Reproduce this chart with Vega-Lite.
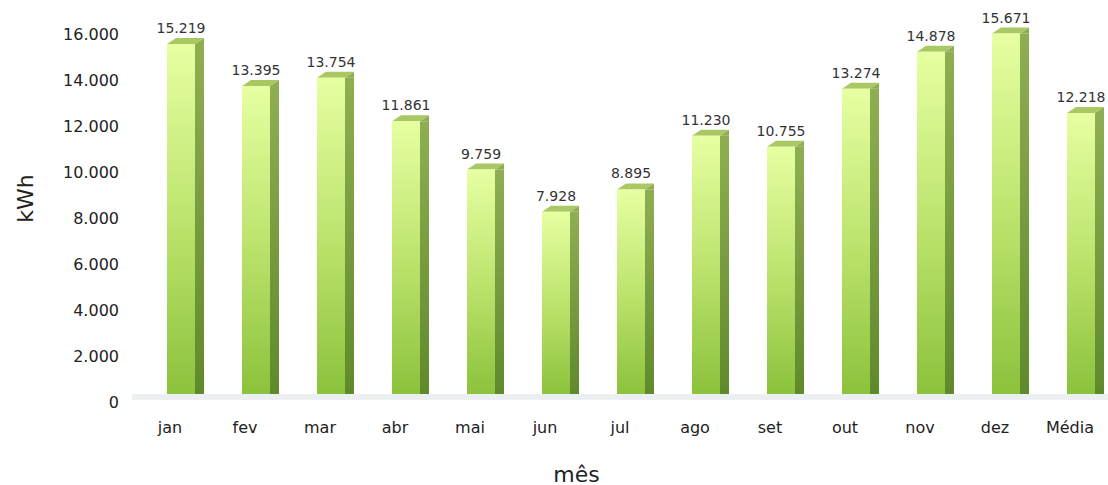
{
  "$schema": "https://vega.github.io/schema/vega-lite/v6.json",
  "width": 975,
  "height": 368,
  "autosize": {"type": "none"},
  "padding": {"left": 132.5, "top": 34, "right": 0.5, "bottom": 83},
  "background": "white",
  "config": {
    "view": {"stroke": null},
    "font": "DejaVu Sans",
    "locale": {"number": {"decimal": ",", "thousands": ".", "grouping": [3], "currency": ["R$", ""]}}
  },
  "data": {"values": [
    {"mes": "jan", "kwh": 15219},
    {"mes": "fev", "kwh": 13395},
    {"mes": "mar", "kwh": 13754},
    {"mes": "abr", "kwh": 11861},
    {"mes": "mai", "kwh": 9759},
    {"mes": "jun", "kwh": 7928},
    {"mes": "jul", "kwh": 8895},
    {"mes": "ago", "kwh": 11230},
    {"mes": "set", "kwh": 10755},
    {"mes": "out", "kwh": 13274},
    {"mes": "nov", "kwh": 14878},
    {"mes": "dez", "kwh": 15671},
    {"mes": "Média", "kwh": 12218}
  ]},
  "layer": [
    {
      "mark": {"type": "rule", "color": "#eceff2", "strokeWidth": 5, "yOffset": -5},
      "encoding": {"y": {"datum": 0, "type": "quantitative", "scale": {"domain": [0, 16000], "nice": false},
          "axis": {"title": "kWh", "format": ",.0f", "values": [0, 2000, 4000, 6000, 8000, 10000, 12000, 14000, 16000],
            "grid": false, "domain": false, "ticks": false, "labelPadding": 14, "labelFontSize": 16, "labelColor": "#222",
            "titleFontSize": 22, "titleFontWeight": "normal", "titleColor": "#222", "titleX": -100.5, "titleY": 164,
            "titleAngle": -90, "titleAlign": "center", "titleBaseline": "alphabetic"}}}
    },
    {
      "mark": {"type": "bar", "width": 9, "xOffset": 29.5, "yOffset": -8, "y2Offset": -14,
        "fill": {"gradient": "linear", "x1": 0, "y1": 0, "x2": 0, "y2": 1,
          "stops": [{"offset": 0, "color": "#8fae52"}, {"offset": 1, "color": "#5f8a2c"}]}},
      "encoding": {
        "x": {"field": "mes", "type": "nominal", "sort": null, "scale": {"paddingInner": 0, "paddingOuter": 0},
          "axis": {"title": "mês", "labelAngle": 0, "domain": false, "ticks": false, "labelFontSize": 16, "labelColor": "#222",
            "labelPadding": 30, "labelBaseline": "alphabetic", "titleFontSize": 22, "titleFontWeight": "normal", "titleColor": "#222",
            "titleX": 443.5, "titleY": 79, "titleAlign": "center", "titleBaseline": "alphabetic"}},
        "y": {"field": "kwh", "type": "quantitative", "scale": {"domain": [0, 16000], "nice": false},
          "axis": {"title": "kWh", "format": ",.0f", "values": [0, 2000, 4000, 6000, 8000, 10000, 12000, 14000, 16000],
            "grid": false, "domain": false, "ticks": false, "labelPadding": 14, "labelFontSize": 16, "labelColor": "#222",
            "titleFontSize": 22, "titleFontWeight": "normal", "titleColor": "#222", "titleX": -100.5, "titleY": 164,
            "titleAngle": -90, "titleAlign": "center", "titleBaseline": "alphabetic"}}
      }
    },
    {
      "mark": {"type": "point", "shape": "M 25 -8 L 34 -14 L 34 -8 Z", "size": 4, "filled": true, "opacity": 1, "strokeWidth": 0, "color": "#8fae52"},
      "encoding": {
        "x": {"field": "mes", "type": "nominal", "sort": null},
        "y": {"field": "kwh", "type": "quantitative"}
      }
    },
    {
      "mark": {"type": "point", "shape": "M 25 -14 L 34 -14 L 25 -8 Z", "size": 4, "filled": true, "opacity": 1, "strokeWidth": 0, "color": "#5f8a2c"},
      "encoding": {
        "x": {"field": "mes", "type": "nominal", "sort": null},
        "y": {"datum": 0, "type": "quantitative"}
      }
    },
    {
      "mark": {"type": "point", "shape": "M -3 -8 L 25 -8 L 34 -14 L 6 -14 Z", "size": 4, "filled": true, "opacity": 1, "strokeWidth": 0, "color": "#a9c864"},
      "encoding": {
        "x": {"field": "mes", "type": "nominal", "sort": null},
        "y": {"field": "kwh", "type": "quantitative"}
      }
    },
    {
      "mark": {"type": "bar", "width": 28, "xOffset": 11, "yOffset": -8, "y2Offset": -8,
        "fill": {"gradient": "linear", "x1": 0, "y1": 0, "x2": 0, "y2": 1,
          "stops": [{"offset": 0, "color": "#e6ffa2"}, {"offset": 0.5, "color": "#bde46e"}, {"offset": 1, "color": "#8cc23c"}]}},
      "encoding": {
        "x": {"field": "mes", "type": "nominal", "sort": null},
        "y": {"field": "kwh", "type": "quantitative"}
      }
    },
    {
      "mark": {"type": "text", "xOffset": 11, "dy": -19, "baseline": "alphabetic", "fontSize": 14, "color": "#333"},
      "encoding": {
        "x": {"field": "mes", "type": "nominal", "sort": null},
        "y": {"field": "kwh", "type": "quantitative"},
        "text": {"field": "kwh", "type": "quantitative", "format": ",.0f"}
      }
    }
  ]
}
